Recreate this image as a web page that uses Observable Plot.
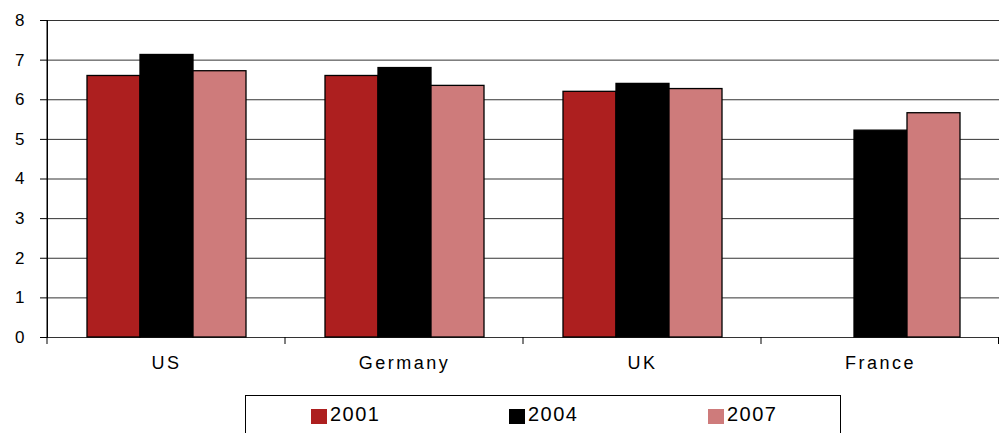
<!DOCTYPE html>
<html>
<head>
<meta charset="utf-8">
<script src="https://cdn.jsdelivr.net/npm/d3@7"></script>
<script src="https://cdn.jsdelivr.net/npm/@observablehq/plot@0.6"></script>
<style>
  html, body { margin: 0; padding: 0; background: #fff; overflow: hidden; }
  body { width: 999px; height: 433px; position: relative; font-family: "Liberation Sans", Arial, sans-serif; }
  #legend { position: absolute; left: 245px; top: 395px; width: 596px; height: 60px; border: 1px solid #000; box-sizing: border-box; }
  .item { position: absolute; top: 7px; display: flex; align-items: center; font-size: 20px; letter-spacing: 1.5px; color: #000; }
  .sw { width: 16px; height: 15px; margin-right: 3px; margin-top: 4px; }
</style>
</head>
<body>
<div id="chart"></div>
<div id="legend"></div>
<script>
const countries = ["US", "Germany", "UK", "France"];
const years = ["2001", "2004", "2007"];
const colors = ["#ad1f1f", "#000000", "#ce7b7b"];
const v2001 = [6.6, 6.6, 6.2, null];
const v2004 = [7.13, 6.8, 6.4, 5.22];
const v2007 = [6.72, 6.35, 6.27, 5.66];
const yTicks = [0, 1, 2, 3, 4, 5, 6, 7, 8];

const series = [v2001, v2004, v2007];
const data = [];
countries.forEach((c, i) => {
  years.forEach((y, j) => {
    const v = series[j][i];
    if (v != null) data.push({country: c, year: y, value: v});
  });
});

const chart = Plot.plot({
  width: 999,
  height: 390,
  marginTop: 20,
  marginBottom: 53,
  marginLeft: 46,
  marginRight: 0,
  style: {fontFamily: "Liberation Sans, Arial, sans-serif", fontSize: "16px", color: "#000", background: "#fff"},
  fx: {domain: countries, padding: 0, label: null, tickSize: 0, tickPadding: 19, axis: "bottom"},
  x: {domain: years, paddingInner: 0, paddingOuter: 0.74, axis: null},
  y: {domain: [0, 8], ticks: yTicks, tickSize: 7, tickPadding: 16, label: null, line: true, tickFormat: d => d},
  color: {domain: years, range: colors},
  marks: [
    Plot.ruleY(yTicks, {stroke: "#000", strokeOpacity: 0.8, strokeWidth: 1}),
    Plot.barY(data, {fx: "country", x: "year", y: "value", fill: "year", stroke: "#000", strokeWidth: 1.3})
  ]
});
document.getElementById("chart").appendChild(chart);

// text styling
d3.select(chart).selectAll("text").each(function () {
  const t = this.textContent;
  const sel = d3.select(this);
  if (countries.includes(t)) {
    sel.attr("font-size", 18).style("font-size", "18px").style("letter-spacing", "2.5px");
  } else {
    sel.attr("font-size", 17).style("font-size", "17px");
  }
});

// category boundary ticks and axis line using the library's scales
const fx = chart.scale("fx");
const ys = chart.scale("y");
const y0 = ys.apply(0);
const bounds = countries.map(c => fx.apply(c)).concat([fx.apply(countries[countries.length - 1]) + fx.bandwidth]);
const svg = d3.select(chart);
svg.append("g").selectAll("line").data(bounds).join("line")
  .attr("x1", d => Math.min(d, 998.5)).attr("x2", d => Math.min(d, 998.5))
  .attr("y1", y0).attr("y2", y0 + 7)
  .attr("stroke", "#000");
svg.append("line").attr("x1", bounds[0]).attr("x2", bounds[0]).attr("y1", ys.apply(8)).attr("y2", y0).attr("stroke", "#000");

// legend
const lg = document.getElementById("legend");
const lefts = [65, 263, 462];
years.forEach((y, i) => {
  const it = document.createElement("div");
  it.className = "item";
  it.style.left = lefts[i] + "px";
  it.innerHTML = `<span class="sw" style="background:${colors[i]}"></span><span>${y}</span>`;
  lg.appendChild(it);
});
</script>
</body>
</html>
